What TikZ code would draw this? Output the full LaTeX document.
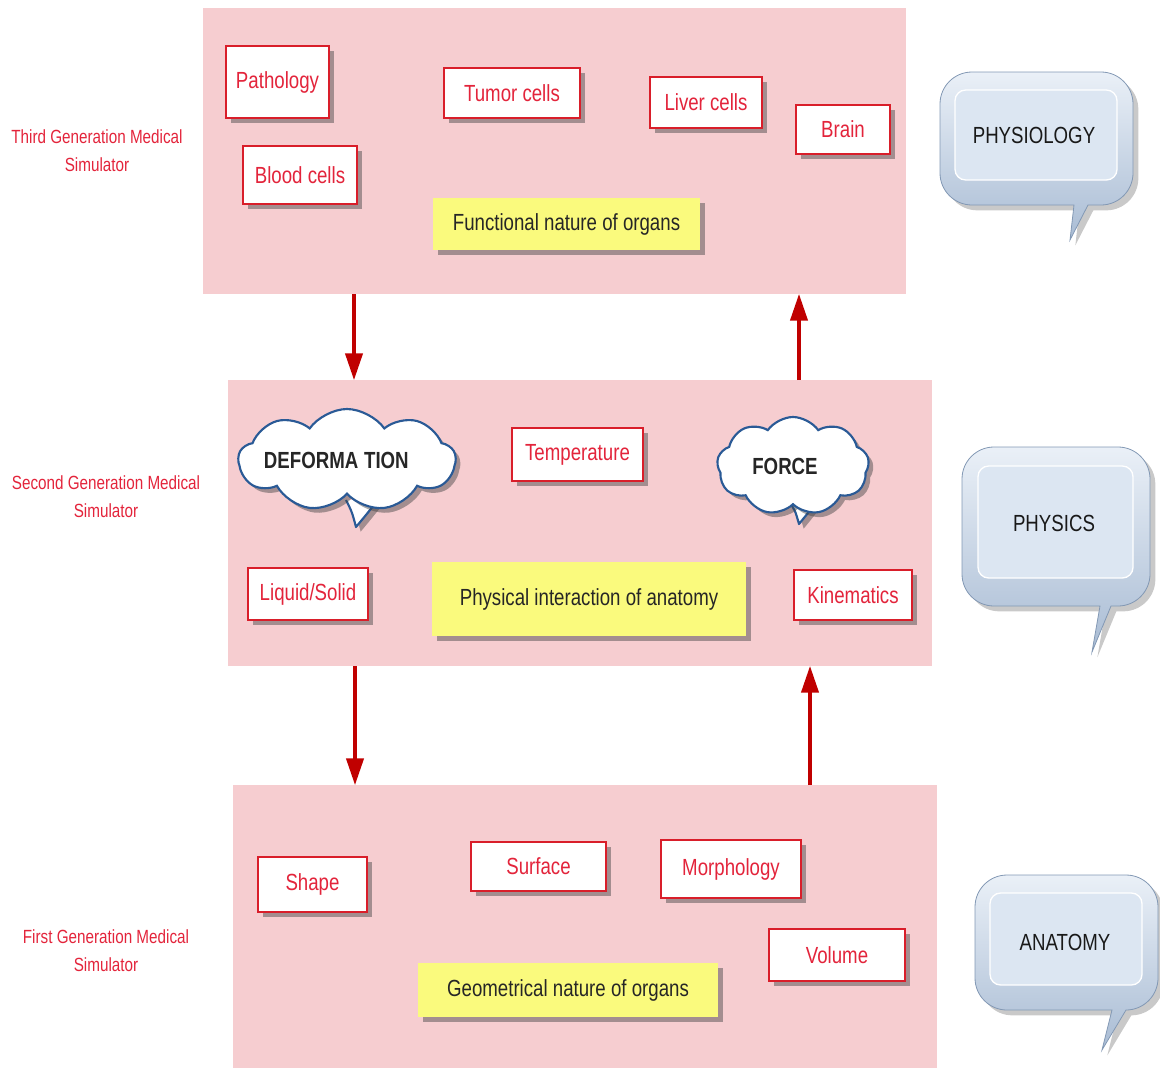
\documentclass[tikz,border=0pt]{standalone}
\usepackage{fontspec}
\setmainfont{Liberation Sans}[FakeStretch=0.8]
\usetikzlibrary{shapes.symbols,shadows,arrows.meta}
\definecolor{panelpink}{HTML}{F6CDD0}
\definecolor{boxred}{HTML}{D91E2A}
\definecolor{txtred}{HTML}{E3243B}
\definecolor{yellowbg}{HTML}{FAFA7D}
\definecolor{arrowred}{HTML}{C00000}
\definecolor{cloudblue}{HTML}{2A5A96}
\definecolor{calin}{HTML}{DCE6F2}
\definecolor{calout}{HTML}{A9BCD4}
\definecolor{caldark}{HTML}{8298B4}
\begin{document}
\begin{tikzpicture}[x=0.75pt,y=-0.75pt,
  panel/.style={fill=panelpink, inner sep=0, outer sep=0, anchor=north west},
  sz/.style 2 args={minimum width=#1*0.75pt, minimum height=#2*0.75pt},
  mainfont/.style={font=\fontsize{17.5}{20}\selectfont},
  shad/.style={drop shadow={shadow xshift=3.5pt, shadow yshift=-3.5pt, opacity=0.45, fill=black!75}},
  rbox/.style={draw=boxred, line width=1.2pt, fill=white, text=txtred, mainfont, inner sep=0, shad},
  ybox/.style={fill=yellowbg, text=black!85, mainfont, inner sep=0, shad},
  arr/.style={draw=arrowred, line width=2.3pt, -{Triangle[length=20pt,width=13pt]}},
  cldbox/.style={cloud, cloud puffs=9, cloud puff arc=110, cloud ignores aspect, draw=cloudblue, line width=1.6pt, fill=white, text=black!85, font=\bfseries\fontsize{17.5}{20}\selectfont, inner sep=0, shad},
  tailst/.style={draw=cloudblue, line width=1.6pt, fill=white, line join=round, shad},
  lbl/.style={text=txtred, align=center, font=\fontsize{14.3}{21}\selectfont},
  caltxt/.style={text=black!90, font=\fontsize{17.5}{20}\selectfont},
  calshape/.style={draw=caldark, line width=0.6pt, top color=calin!60!white, bottom color=calout, shading angle=0,
     drop shadow={shadow xshift=4pt, shadow yshift=-4pt, opacity=0.3, fill=black!70}},
  calinner/.style={fill=calin, draw=white, line width=1pt, rounded corners=8pt}
]
\useasboundingbox (0,0) rectangle (1160,1068);

% panels
\node[panel, sz={703}{286}] (top) at (203,8) {};
\node[panel, sz={704}{286}] (mid) at (228,380) {};
\node[panel, sz={704}{283}] (bot) at (233,785) {};

% left labels
\node[lbl] (l3) at (97,151) {Third Generation Medical\\Simulator};
\node[lbl] (l2) at (106,497) {Second Generation Medical\\Simulator};
\node[lbl] (l1) at (106,951) {First Generation Medical\\Simulator};

% top panel contents
\node[rbox, sz={103}{72}] (patho) at (277.5,82) {Pathology};
\node[rbox, sz={136}{50}] (tumor) at (512,93) {Tumor cells};
\node[rbox, sz={112}{51}] (liver) at (706,102.5) {Liver cells};
\node[rbox, sz={94}{49}] (brain) at (843,129.5) {Brain};
\node[rbox, sz={114}{58}] (blood) at (300,175) {Blood cells};
\node[ybox, sz={267}{52}] (func) at (566.5,224) {Functional nature of organs};

% middle panel contents
\draw[tailst] (346,500) .. controls (352,512) .. (356,527) .. controls (366,515) .. (378,500);
\node[cldbox, sz={217}{102}] (deform) at (347,460) {\kern-16pt DEFORMA\hspace{0.25em}TION};
\draw[tailst] (788,500) .. controls (795,510) .. (799,524) .. controls (808,513) .. (818,500);
\node[cldbox, sz={152}{98}] (force) at (793,466) {\kern-12pt FORCE};
\node[rbox, sz={131}{53}] (temp) at (577.5,454.5) {Temperature};
\node[rbox, sz={120}{52}] (liq) at (308,594) {Liquid/Solid};
\node[ybox, sz={314}{74}] (phys) at (589,599) {Physical interaction of anatomy};
\node[rbox, sz={118}{50}] (kin) at (853,595) {Kinematics};

% bottom panel contents
\node[rbox, sz={109}{55}] (shape) at (312.5,884.5) {Shape};
\node[rbox, sz={135}{49}] (surf) at (538.5,866.5) {Surface};
\node[rbox, sz={140}{58}] (morph) at (731,869) {Morphology};
\node[rbox, sz={136}{52}] (vol) at (837,955) {Volume};
\node[ybox, sz={300}{54}] (geom) at (568,990) {Geometrical nature of organs};

% arrows
\coordinate (ax1) at (354,0);
\coordinate (ax2) at (799,0);
\coordinate (ax3) at (355,0);
\coordinate (ax4) at (810,0);
\draw[arr] (top.south -| ax1) -- (mid.north -| ax1);
\draw[arr] (mid.north -| ax2) -- (top.south -| ax2);
\draw[arr] (mid.south -| ax3) -- (bot.north -| ax3);
\draw[arr] (bot.north -| ax4) -- (mid.south -| ax4);

% callouts
\path[calshape] (940,140) [rounded corners=24pt] -- (940,72) -- (1133,72) -- (1133,205) [sharp corners] -- (1088,205) -- (1070,240) -- (1074,205) [rounded corners=24pt] -- (940,205) -- cycle;
\path[calinner] (955,90) rectangle (1117,180);
\node[caltxt] (physio) at (1034,135) {PHYSIOLOGY};

\path[calshape] (962,520) [rounded corners=24pt] -- (962,447) -- (1150,447) -- (1150,606) [sharp corners] -- (1111,606) -- (1092,652) -- (1100,606) [rounded corners=24pt] -- (962,606) -- cycle;
\path[calinner] (978,466) rectangle (1133,578);
\node[caltxt] (physics) at (1054,523) {PHYSICS};

\path[calshape] (975,940) [rounded corners=24pt] -- (975,875) -- (1158,875) -- (1158,1010) [sharp corners] -- (1126,1010) -- (1102,1050) -- (1112,1010) [rounded corners=24pt] -- (975,1010) -- cycle;
\path[calinner] (990,893) rectangle (1142,985);
\node[caltxt] (anat) at (1065,942) {ANATOMY};
\end{tikzpicture}
\end{document}
